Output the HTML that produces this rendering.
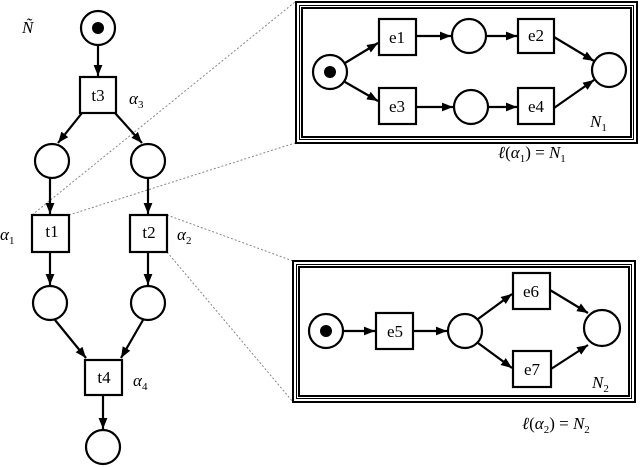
<!DOCTYPE html>
<html><head><meta charset="utf-8"><style>
html,body{margin:0;padding:0;background:#fff;width:640px;height:467px;overflow:hidden}
text{font-family:"Liberation Serif",serif;font-size:17px;fill:#000}
.i{font-style:italic}
</style></head><body>
<svg width="640" height="467" viewBox="0 0 640 467" xmlns="http://www.w3.org/2000/svg">
<defs><marker id="a" viewBox="0 0 10 10" refX="10" refY="5" markerWidth="5" markerHeight="5" orient="auto"><path d="M0,1 L10,5 L0,9 z" fill="#000"/></marker></defs>
<g stroke="#888" stroke-width="1" stroke-dasharray="2,2" fill="none">
<line x1="32" y1="215" x2="295" y2="2"/>
<line x1="69" y1="215" x2="295" y2="143"/>
<line x1="167" y1="215" x2="293" y2="261"/>
<line x1="167" y1="252" x2="293" y2="402"/>
</g>
<g stroke="#000" stroke-width="2.2" fill="#fff">
<circle cx="98" cy="28" r="17"/>
<rect x="80" y="77" width="36" height="36"/>
<circle cx="52" cy="161" r="17"/><circle cx="148" cy="161" r="17"/>
<rect x="32" y="215" width="37" height="37"/><rect x="130" y="215" width="37" height="37"/>
<circle cx="50" cy="303" r="17"/><circle cx="148" cy="303" r="17"/>
<rect x="85" y="360" width="37" height="35"/>
<circle cx="103" cy="447" r="17"/>
</g>
<circle cx="98" cy="28" r="6" fill="#000"/>
<g stroke="#000" stroke-width="2.2" fill="none" marker-end="url(#a)">
<line x1="98" y1="45" x2="98" y2="76"/>
<line x1="82" y1="113" x2="58" y2="143"/>
<line x1="115" y1="113" x2="142" y2="143"/>
<line x1="50" y1="178" x2="50" y2="214"/>
<line x1="148" y1="178" x2="148" y2="214"/>
<line x1="50" y1="252" x2="50" y2="285"/>
<line x1="148" y1="252" x2="148" y2="285"/>
<line x1="55" y1="320" x2="86" y2="358"/>
<line x1="143" y1="320" x2="121" y2="358"/>
<line x1="103" y1="395" x2="103" y2="429"/>
</g>
<text x="52" y="237" text-anchor="middle">t1</text>
<text x="149" y="238" text-anchor="middle">t2</text>
<text x="98" y="101" text-anchor="middle">t3</text>
<text x="104" y="383" text-anchor="middle">t4</text>
<text class="i" x="22" y="33">Ñ</text>
<text class="i" x="129" y="104">α<tspan font-size="11" dy="4" font-style="normal">3</tspan></text>
<text class="i" x="0" y="240">α<tspan font-size="11" dy="4" font-style="normal">1</tspan></text>
<text class="i" x="177" y="240">α<tspan font-size="11" dy="4" font-style="normal">2</tspan></text>
<text class="i" x="133" y="386">α<tspan font-size="11" dy="4" font-style="normal">4</tspan></text>

<!-- Box 1 -->
<rect x="296" y="2" width="341" height="141" fill="none" stroke="#000" stroke-width="2"/>
<rect x="299.5" y="5.5" width="334" height="134" fill="none" stroke="#000" stroke-width="1"/>
<rect x="302" y="8" width="329" height="129" fill="none" stroke="#000" stroke-width="2"/>
<g stroke="#000" stroke-width="2.2" fill="#fff">
<circle cx="330" cy="72" r="17"/>
<rect x="379" y="19" width="37" height="36"/>
<circle cx="469" cy="36" r="17"/>
<rect x="518" y="19" width="36" height="34"/>
<circle cx="609" cy="70" r="17"/>
<rect x="379" y="88" width="37" height="36"/>
<circle cx="471" cy="107" r="17"/>
<rect x="518" y="88" width="36" height="36"/>
</g>
<circle cx="330" cy="72" r="6" fill="#000"/>
<g stroke="#000" stroke-width="2.2" fill="none" marker-end="url(#a)">
<line x1="345" y1="63" x2="378" y2="43"/>
<line x1="345" y1="82" x2="378" y2="101"/>
<line x1="416" y1="36" x2="451" y2="36"/>
<line x1="486" y1="36" x2="517" y2="36"/>
<line x1="416" y1="107" x2="453" y2="107"/>
<line x1="488" y1="107" x2="517" y2="107"/>
<line x1="554" y1="37" x2="594" y2="61"/>
<line x1="554" y1="108" x2="594" y2="80"/>
</g>
<text x="397" y="43" text-anchor="middle">e1</text>
<text x="536" y="41" text-anchor="middle">e2</text>
<text x="397" y="112" text-anchor="middle">e3</text>
<text x="536" y="112" text-anchor="middle">e4</text>
<text class="i" x="590" y="127">N<tspan font-size="11" dy="4" font-style="normal">1</tspan></text>
<text x="498" y="158"><tspan class="i">ℓ</tspan>(<tspan class="i">α</tspan><tspan font-size="11" dy="4">1</tspan><tspan dy="-4">) = </tspan><tspan class="i">N</tspan><tspan font-size="11" dy="4">1</tspan></text>

<!-- Box 2 -->
<rect x="293" y="261" width="342" height="141" fill="none" stroke="#000" stroke-width="2"/>
<rect x="296.5" y="264.5" width="335" height="134" fill="none" stroke="#000" stroke-width="1"/>
<rect x="299" y="267" width="330" height="129" fill="none" stroke="#000" stroke-width="2"/>
<g stroke="#000" stroke-width="2.2" fill="#fff">
<circle cx="326" cy="331" r="17"/>
<rect x="376" y="313" width="37" height="36"/>
<circle cx="465" cy="331" r="17"/>
<rect x="513" y="273" width="37" height="36"/>
<rect x="513" y="351" width="38" height="36"/>
<circle cx="602" cy="328" r="18"/>
</g>
<circle cx="326" cy="331" r="6" fill="#000"/>
<g stroke="#000" stroke-width="2.2" fill="none" marker-end="url(#a)">
<line x1="343" y1="331" x2="375" y2="331"/>
<line x1="413" y1="331" x2="447" y2="331"/>
<line x1="478" y1="319" x2="512" y2="294"/>
<line x1="478" y1="343" x2="512" y2="368"/>
<line x1="550" y1="290" x2="588" y2="313"/>
<line x1="551" y1="369" x2="588" y2="345"/>
</g>
<text x="395" y="337" text-anchor="middle">e5</text>
<text x="531" y="297" text-anchor="middle">e6</text>
<text x="532" y="375" text-anchor="middle">e7</text>
<text class="i" x="592" y="388">N<tspan font-size="11" dy="4" font-style="normal">2</tspan></text>
<text x="522" y="429"><tspan class="i">ℓ</tspan>(<tspan class="i">α</tspan><tspan font-size="11" dy="4">2</tspan><tspan dy="-4">) = </tspan><tspan class="i">N</tspan><tspan font-size="11" dy="4">2</tspan></text>
</svg>
</body></html>
